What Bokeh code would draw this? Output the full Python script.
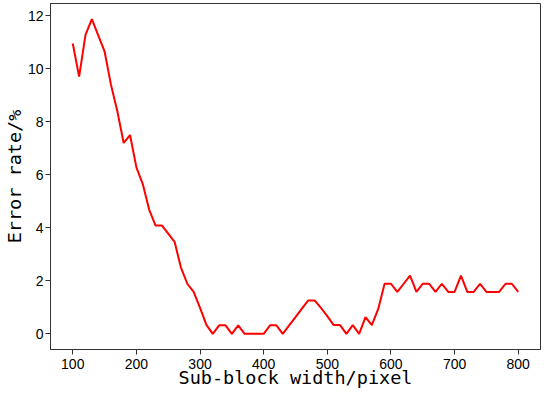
from bokeh.plotting import figure
from bokeh.models import Range1d, FixedTicker
from bokeh.embed import file_html
from bokeh.resources import INLINE

widths = list(range(100, 810, 10))
error_rate = [
    10.95, 9.70, 11.28, 11.87, 11.26, 10.65, 9.40, 8.40, 7.20, 7.50,   # 100-190
    6.28, 5.65, 4.69, 4.09, 4.09, 3.78, 3.47, 2.50, 1.89, 1.58,        # 200-290
    0.98, 0.34, 0.00, 0.32, 0.32, 0.00, 0.32, 0.00, 0.00, 0.00,        # 300-390
    0.00, 0.32, 0.32, 0.00, 0.32, 0.63, 0.95, 1.26, 1.26, 0.98,        # 400-490
    0.67, 0.33, 0.33, 0.00, 0.33, 0.00, 0.63, 0.33, 0.94, 1.89,        # 500-590
    1.89, 1.58, 1.89, 2.20, 1.58, 1.89, 1.89, 1.58, 1.89, 1.58,        # 600-690
    1.58, 2.20, 1.58, 1.58, 1.89, 1.58, 1.58, 1.58, 1.89, 1.89,        # 700-790
    1.58,                                                              # 800
]
x_ticks = [100, 200, 300, 400, 500, 600, 700, 800]
y_ticks = [0, 2, 4, 6, 8, 10, 12]
x_label = "Sub-block width/pixel"
y_label = "Error rate/%"

p = figure(width=542, height=390, output_backend="svg", toolbar_location=None,
           x_range=Range1d(65, 835), y_range=Range1d(-0.59, 12.46),
           min_border_left=49, min_border_right=2, min_border_top=3, min_border_bottom=36)

p.line(widths, error_rate, line_color="#ff0000", line_width=2)

p.grid.visible = False
p.outline_line_color = "#333333"
p.outline_line_width = 1
p.background_fill_color = "white"
p.border_fill_color = "white"

for ax in (p.xaxis[0], p.yaxis[0]):
    ax.major_tick_in = 0
    ax.major_tick_out = 5
    ax.minor_tick_line_color = None
    ax.axis_line_color = "#333333"
    ax.major_tick_line_color = "#333333"
    ax.major_label_text_font = "Liberation Sans"
    ax.major_label_text_font_size = "14px"
    ax.major_label_text_color = "black"
    ax.axis_label_text_font = "DejaVu Sans Mono"
    ax.axis_label_text_font_size = "18.5px"
    ax.axis_label_text_font_style = "normal"
    ax.axis_label_text_color = "black"

p.xaxis[0].major_label_standoff = 4
p.xaxis[0].axis_label_standoff = -5
p.yaxis[0].major_label_standoff = 2
p.yaxis[0].axis_label_standoff = 0

p.xaxis[0].ticker = FixedTicker(ticks=x_ticks)
p.yaxis[0].ticker = FixedTicker(ticks=y_ticks)
p.xaxis[0].axis_label = x_label
p.yaxis[0].axis_label = y_label

open("out.html", "w").write(file_html(p, INLINE))
